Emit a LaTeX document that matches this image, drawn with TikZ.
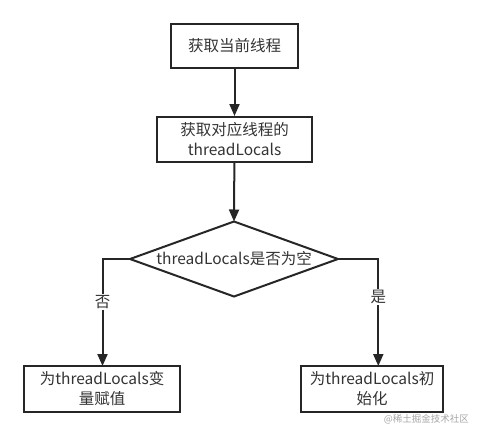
\documentclass[tikz,border=0pt]{standalone}
\usepackage{fontspec}
\setmainfont{Noto Sans CJK SC}
\usetikzlibrary{arrows.meta,shapes.geometric}
\definecolor{linec}{HTML}{262626}
\definecolor{txtc}{HTML}{333333}
\tikzset{
  box/.style={draw=linec,line width=2pt,rectangle,minimum height=44pt,align=center,text=txtc,font=\fontsize{15.5}{20}\selectfont,inner sep=0pt},
  conn/.style={draw=linec,line width=2pt,-{Triangle[length=12pt,width=10pt]}},
  lbl/.style={fill=white,inner sep=1pt,text=txtc,font=\fontsize{15.5}{20}\selectfont}
}
\begin{document}
\begin{tikzpicture}[x=1pt,y=-1pt]
\useasboundingbox (0,0) rectangle (481,437);
\node[box,minimum width=127pt] (a) at (234.5,46) {获取当前线程};
\node[box,minimum width=155pt,minimum height=45pt] (b) at (234.5,139.5) {获取对应线程的\\threadLocals};
\coordinate (cl) at (130,259);
\coordinate (cr) at (338,259);
\coordinate (ct) at (234,221.5);
\coordinate (cb) at (234,296.5);
\draw[draw=linec,line width=2pt] (cl) -- (ct) -- (cr) -- (cb) -- cycle;
\node[inner sep=0pt,text=txtc,font=\fontsize{15.5}{20}\selectfont] (c) at (234,259) {threadLocals是否为空};
\node[box,minimum width=156pt,minimum height=46pt] (d) at (102,389) {为threadLocals变\\量赋值};
\node[box,minimum width=142pt,minimum height=46pt] (e) at (372,389) {为threadLocals初\\始化};
\coordinate (l1) at (102.5,259);
\coordinate (r1) at (378.3,259);
\coordinate (dt) at (102.5,366);
\coordinate (et) at (378.3,366);
\draw[conn] (a) -- (b);
\draw[conn] (b) -- (ct);
\draw[conn] (cl) -- (l1) -- (dt);
\draw[conn] (cr) -- (r1) -- (et);
\node[lbl] (no) at (102.5,302) {否};
\node[lbl] (yes) at (378.3,297) {是};
\node[font=\fontsize{9.5}{12}\selectfont,text=black!35,anchor=east,inner sep=0pt] (wm) at (469,419) {@稀土掘金技术社区};
\end{tikzpicture}
\end{document}
